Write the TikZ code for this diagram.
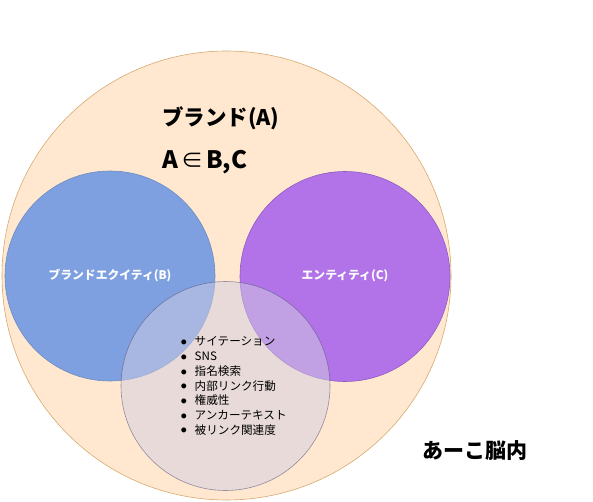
\documentclass[tikz,border=0pt]{standalone}
\usepackage{fontspec}
\setmainfont{Noto Sans CJK JP}
\definecolor{peachfill}{HTML}{FFE8CF}
\definecolor{peachdraw}{RGB}{215,170,110}
\definecolor{bluefill}{HTML}{7EA0E0}
\definecolor{bluedraw}{HTML}{6C8EBF}
\definecolor{purplefill}{HTML}{B273E8}
\definecolor{purpledraw}{HTML}{8E5CC0}
\definecolor{grayfill}{HTML}{D0CEE2}
\definecolor{graydraw}{HTML}{56517E}
\newcommand{\blt}{\makebox[13.5pt][l]{\raisebox{1.2pt}{\fontsize{5.5}{6}\selectfont ●}}}
\tikzset{
  setcircle/.style={circle, inner sep=0pt, line width=0.6pt},
  circlabel/.style={text=white, font=\bfseries\fontsize{11.8}{13}\selectfont},
}
\begin{document}
\begin{tikzpicture}[x=1pt,y=-1pt]
\useasboundingbox (0,0) rectangle (593,502);
\fill[white] (0,0) rectangle (593,502);
\node[setcircle, minimum size=449pt, fill=peachfill, draw=peachdraw] (A) at (226.5,275.5) {};
\node[setcircle, minimum size=210pt, fill=bluefill, draw=bluedraw] (B) at (110,276) {};
\node[setcircle, minimum size=210pt, fill=purplefill, draw=purpledraw] (C) at (345,276.5) {};
\node[setcircle, minimum size=209pt, fill=grayfill, fill opacity=0.5, draw=graydraw, draw opacity=0.6] (D) at (225.5,386) {};
\node[anchor=west, inner sep=0pt, font=\bfseries\fontsize{21.5}{24}\selectfont] (titleA) at (162,118) {ブランド(A)};
\node[anchor=west, inner sep=0pt, font=\bfseries\fontsize{24}{26}\selectfont] (rel) at (162,162) {A\hspace{3pt}{\mdseries\fontsize{22}{24}\selectfont ∈}\hspace{3pt}B,C};
\node[circlabel] (labB) at (110,276) {ブランドエクイティ(B)};
\node[circlabel] (labC) at (345,276) {エンティティ(C)};
\node[anchor=west, inner sep=0pt, align=left, font=\fontsize{11.6}{14.7}\selectfont] (list) at (181,386)
  {\blt サイテーション\\
   \blt SNS\\
   \blt 指名検索\\
   \blt 内部リンク行動\\
   \blt 権威性\\
   \blt アンカーテキスト\\
   \blt 被リンク関連度};
\node[font=\bfseries\fontsize{21}{24}\selectfont] (brain) at (475,451) {あーこ脳内};
\end{tikzpicture}
\end{document}
